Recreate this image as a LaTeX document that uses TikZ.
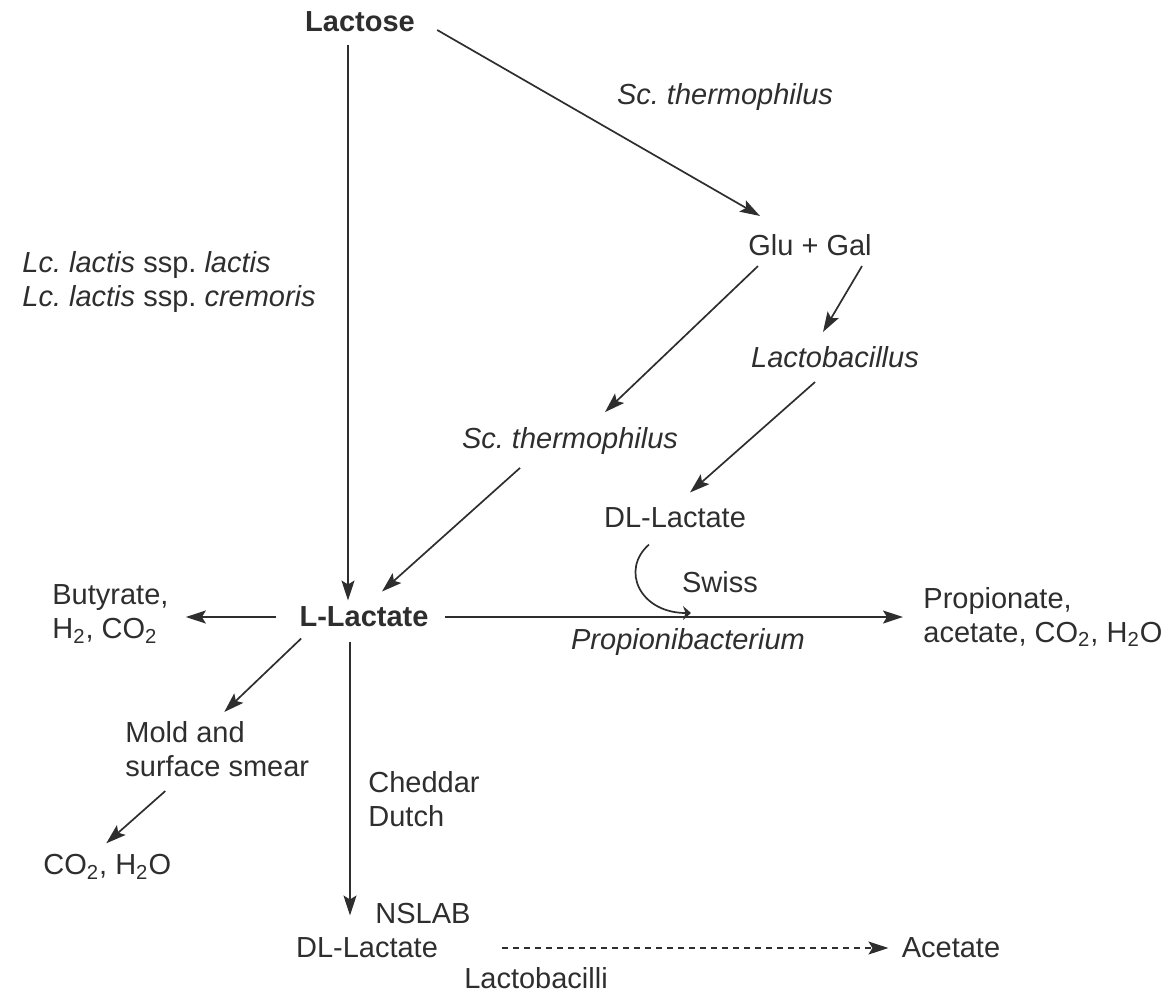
\documentclass[tikz,border=0pt]{standalone}
\usepackage{fontspec}
\setmainfont{Liberation Sans}
\usepackage{xcolor}
\usetikzlibrary{arrows.meta}
\definecolor{ink}{HTML}{2E2E2E}
\frenchspacing

\begin{document}
\begin{tikzpicture}[x=0.5pt, y=-0.5pt,
    every node/.style={font=\fontsize{14.5}{17}\selectfont, text=ink, inner sep=3pt},
    bold/.style={font=\fontsize{14.5}{17}\selectfont\bfseries},
    spec/.style={font=\fontsize{14.5}{17}\selectfont\itshape},
    multi/.style={anchor=west, align=left},
    arr/.style={draw=ink, line width=0.85pt, -{Stealth[length=10pt,width=6.5pt,inset=2pt]}}]
    \useasboundingbox (0,0) rectangle (1167,992);

    \node[bold] (lactose) at (360, 22) {Lactose};
    \node[spec] (scthermoa) at (725, 97) {Sc. thermophilus};
    \node (glugal) at (810, 245) {Glu + Gal};
    \node[multi] (lclactis) at (16, 282) {\textit{Lc. lactis} ssp. \textit{lactis}\\\textit{Lc. lactis} ssp. \textit{cremoris}};
    \node[spec] (lactobac) at (835, 357) {Lactobacillus};
    \node[spec] (scthermob) at (570, 441) {Sc. thermophilus};
    \node (dlupper) at (675, 518) {DL-Lactate};
    \node (swiss) at (720, 582) {Swiss};
    \node[bold] (llactate) at (364, 617) {L-Lactate};
    \node[multi] (butyrate) at (46, 614) {Butyrate,\\H\textsubscript{2}, CO\textsubscript{2}};
    \node[multi] (propionate) at (917, 617) {Propionate,\\acetate, CO\textsubscript{2}, H\textsubscript{2}O};
    \node[spec] (propbac) at (688, 642) {Propionibacterium};
    \node[multi] (mold) at (119, 749) {Mold and\\surface smear};
    \node[anchor=west] (cotwo) at (37, 867) {CO\textsubscript{2}, H\textsubscript{2}O};
    \node[multi] (cheddar) at (362, 799) {Cheddar\\Dutch};
    \node[anchor=west] (nslab) at (369, 913) {NSLAB};
    \node (dllower) at (367, 948) {DL-Lactate};
    \node (acetate) at (951, 948) {Acetate};
    \node (lactobacilli) at (536, 978) {Lactobacilli};
    \coordinate (swissend) at (691, 613);

    \draw[arr, shorten <=3pt] ([xshift=-6pt]lactose.south) -- ([xshift=-6pt]lactose.south |- llactate.north);
    \draw[arr] ([shift={(8pt,-4pt)}]lactose.east) -- ([shift={(9pt,6pt)}]glugal.north west);
    \draw[arr] ([shift={(-26pt,-2pt)}]glugal.south) -- ([shift={(17.5pt,4.5pt)}]scthermob.north);
    \draw[arr] ([shift={(26pt,-2pt)}]glugal.south) -- ([shift={(-6pt,4pt)}]lactobac.north);
    \draw[arr] ([shift={(-10pt,-4pt)}]lactobac.south) -- ([shift={(7.5pt,4.5pt)}]dlupper.north);
    \draw[arr] ([shift={(-25pt,-3.5pt)}]scthermob.south) -- ([shift={(9pt,4.5pt)}]llactate.north);
    \draw[arr, shorten >=7pt] ([xshift=5pt]llactate.east) -- (llactate.east -| propionate.west);
    \draw[arr, shorten >=5.5pt] ([xshift=-8.5pt]llactate.west) -- (llactate.west -| butyrate.east);
    \draw[arr] ([shift={(4pt,-2.5pt)}]llactate.south west) -- ([shift={(3.5pt,1.5pt)}]mold.north);
    \draw[arr] ([shift={(-26pt,-4pt)}]mold.south) -- ([shift={(-0.5pt,2.5pt)}]cotwo.north);
    \draw[arr, shorten >=8pt] ([shift={(-7pt,-4pt)}]llactate.south) -- ([xshift=-7pt]llactate.south |- dllower.north);
    \draw[arr, dash pattern=on 3pt off 2.5pt] ([xshift=29pt]dllower.east) -- ([xshift=-3.5pt]acetate.west);
    \draw[draw=ink, line width=0.85pt, -{Stealth[length=4pt,width=7pt]}] ([shift={(-13pt,-5pt)}]dlupper.south) .. controls (620, 570) and (640, 613) .. (swissend);
\end{tikzpicture}
\end{document}
